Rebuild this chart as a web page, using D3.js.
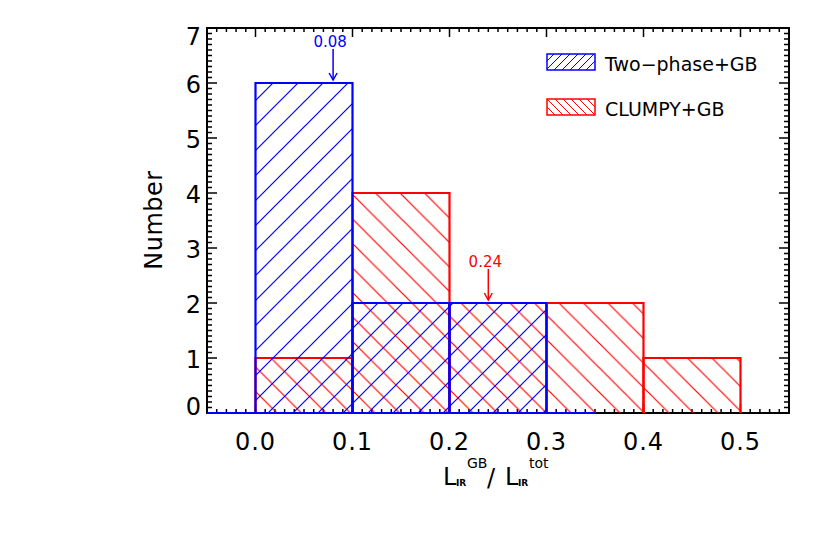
<!DOCTYPE html>
<html>
<head>
<meta charset="utf-8">
<script src="https://cdn.jsdelivr.net/npm/d3@7"></script>
<style>
  body { margin: 0; background: #fff; }
  svg text { font-family: "DejaVu Sans", sans-serif; }
</style>
</head>
<body>
<svg id="chart"></svg>
<script>
const width = 830;
const height = 553;

// Histogram data (bin starts, bin width 0.1)
const binStarts = [0.0, 0.1, 0.2, 0.3, 0.4];
const binWidth = 0.1;
const twoPhaseCounts = [6, 2, 2, 0, 0];
const clumpyCounts = [1, 4, 2, 2, 1];

// Median markers
const medianValues = [0.08, 0.24];
const medianLevels = [6, 2];
const medianLabels = ['0.08', '0.24'];
const medianColors = ['#0000ff', '#ff0000'];

// Axis ticks
const xTicks = [0.0, 0.1, 0.2, 0.3, 0.4, 0.5];
const xTickLabels = ['0.0', '0.1', '0.2', '0.3', '0.4', '0.5'];
const yTicks = [0, 1, 2, 3, 4, 5, 6, 7];

const legendNames = ['Two\u2212phase+GB', 'CLUMPY+GB'];

const svg = d3.select('#chart')
    .attr('width', width)
    .attr('height', height);

const plot = { left: 207, right: 789, top: 28, bottom: 413 };

const x = d3.scaleLinear().domain([-0.05, 0.55]).range([plot.left, plot.right]);
const y = d3.scaleLinear().domain([0, 7]).range([plot.bottom, plot.top]);

// Hatch patterns
const defs = svg.append('defs');
function hatch(id, color, p, dir, offset, sw) {
    const pat = defs.append('pattern')
        .attr('id', id)
        .attr('patternUnits', 'userSpaceOnUse')
        .attr('width', p)
        .attr('height', p)
        .attr('patternTransform', `translate(${offset},0)`);
    const d = dir === '/'
        ? `M-1,${p + 1}L${p + 1},-1 M-1,1L1,-1 M${p - 1},${p + 1}L${p + 1},${p - 1}`
        : `M-1,-1L${p + 1},${p + 1} M${p - 1},-1L${p + 1},1 M-1,${p - 1}L1,${p + 1}`;
    pat.append('path').attr('d', d).attr('stroke', color).attr('stroke-width', sw).attr('fill', 'none');
}
hatch('blueHatch', '#0000ff', 25, '/', 6, 1.2);
hatch('redHatch', '#ff0000', 24.5, '\\', 11, 1.2);
hatch('blueHatchSmall', '#0000ff', 8, '/', 0, 1);
hatch('redHatchSmall', '#ff0000', 8, '\\', 0, 1);

// Axes frame
svg.append('rect')
    .attr('x', plot.left).attr('y', plot.top)
    .attr('width', plot.right - plot.left).attr('height', plot.bottom - plot.top)
    .attr('fill', 'none').attr('stroke', '#000').attr('stroke-width', 2);

const ticks = svg.append('g').attr('stroke', '#000').attr('stroke-width', 1.5);

// x minor + major ticks (bottom and top)
d3.range(-5, 56).map(i => i / 100).forEach(v => {
    const major = xTicks.some(t => Math.abs(t - v) < 1e-6);
    const len = major ? 9 : 4;
    ticks.append('line').attr('x1', x(v)).attr('x2', x(v)).attr('y1', plot.bottom).attr('y2', plot.bottom - len);
    ticks.append('line').attr('x1', x(v)).attr('x2', x(v)).attr('y1', plot.top).attr('y2', plot.top + len);
});
// y minor + major ticks (left and right)
d3.range(0, 71).map(i => i / 10).forEach(v => {
    const major = Math.abs(v - Math.round(v)) < 1e-6;
    const len = major ? 10 : 5;
    ticks.append('line').attr('y1', y(v)).attr('y2', y(v)).attr('x1', plot.left).attr('x2', plot.left + len);
    ticks.append('line').attr('y1', y(v)).attr('y2', y(v)).attr('x1', plot.right).attr('x2', plot.right - len);
});

// Tick labels
svg.append('g').selectAll('text')
    .data(xTicks)
    .join('text')
    .attr('x', d => x(d))
    .attr('y', 450)
    .attr('text-anchor', 'middle')
    .attr('font-size', 24)
    .attr('letter-spacing', 1)
    .text((d, i) => xTickLabels[i]);

svg.append('g').selectAll('text')
    .data(yTicks)
    .join('text')
    .attr('x', 201)
    .attr('y', (d, i) => y(d) + (i === 0 ? -7 : i === yTicks.length - 1 ? 8.5 : 1.5))
    .attr('dy', '0.36em')
    .attr('text-anchor', 'end')
    .attr('font-size', 24)
    .text(d => d);

// Axis titles
svg.append('text')
    .attr('transform', 'translate(162,220) rotate(-90)')
    .attr('text-anchor', 'middle')
    .attr('font-size', 24)
    .attr('letter-spacing', 0.5)
    .text('Number');

const xl = svg.append('g').attr('class', 'xlabel');
xl.append('text').attr('x', 443).attr('y', 485).attr('font-size', 24).text('L');
xl.append('text').attr('x', 456).attr('y', 486).attr('font-size', 9).attr('font-weight', 'bold').text('IR');
xl.append('text').attr('x', 467).attr('y', 468).attr('font-size', 14).text('GB');
xl.append('text').attr('x', 487).attr('y', 486).attr('font-size', 24).text('/');
xl.append('text').attr('x', 505).attr('y', 485).attr('font-size', 24).text('L');
xl.append('text').attr('x', 518).attr('y', 486).attr('font-size', 9).attr('font-weight', 'bold').text('IR');
xl.append('text').attr('x', 529).attr('y', 468).attr('font-size', 14).text('tot');

// Histograms
function drawHist(counts, color, patternId) {
    const g = svg.append('g');
    const bins = binStarts.map((b, i) => ({ x0: b, x1: b + binWidth, n: counts[i] })).filter(d => d.n > 0);
    g.selectAll('rect')
        .data(bins)
        .join('rect')
        .attr('x', d => x(d.x0))
        .attr('y', d => y(d.n))
        .attr('width', d => x(d.x1) - x(d.x0))
        .attr('height', d => y(0) - y(d.n))
        .attr('fill', `url(#${patternId})`);
    g.selectAll('path')
        .data(bins)
        .join('path')
        .attr('d', d => `M${x(d.x0)},${y(0)}V${y(d.n)}H${x(d.x1)}V${y(0)}`)
        .attr('fill', 'none')
        .attr('stroke', color)
        .attr('stroke-width', 2.2);
    return g;
}
drawHist(clumpyCounts, '#ff0000', 'redHatch');
const blueG = drawHist(twoPhaseCounts, '#0000ff', 'blueHatch');
// zero-level step line of the two-phase histogram
blueG.append('line')
    .attr('x1', x(-0.05)).attr('x2', x(0.35))
    .attr('y1', y(0)).attr('y2', y(0))
    .attr('stroke', '#0000ff').attr('stroke-width', 2.2);

// Median arrows
medianValues.forEach((v, i) => {
    const g = svg.append('g').attr('stroke', medianColors[i]).attr('stroke-width', 1.5).attr('fill', 'none');
    const tip = y(medianLevels[i]) - 3;
    const top = tip - 31;
    g.append('line').attr('x1', x(v)).attr('x2', x(v)).attr('y1', top).attr('y2', tip);
    g.append('path').attr('d', `M${x(v) - 4},${tip - 7}L${x(v)},${tip}L${x(v) + 4},${tip - 7}`);
    svg.append('text')
        .attr('x', x(v) - 3)
        .attr('y', top - 2)
        .attr('text-anchor', 'middle')
        .attr('font-size', 15)
        .attr('fill', medianColors[i])
        .text(medianLabels[i]);
});

// Legend
const legend = svg.append('g');
const legendColors = ['#0000ff', '#ff0000'];
const legendPatterns = ['blueHatchSmall', 'redHatchSmall'];
legendNames.forEach((name, i) => {
    const ly = 54 + i * 45;
    legend.append('rect')
        .attr('x', 547).attr('y', ly)
        .attr('width', 48).attr('height', 16)
        .attr('fill', `url(#${legendPatterns[i]})`)
        .attr('stroke', legendColors[i]).attr('stroke-width', 1.5);
    legend.append('text')
        .attr('x', 605).attr('y', ly + 17)
        .attr('font-size', 19)
        .attr('fill', '#000')
        .text(name);
});
</script>
</body>
</html>
